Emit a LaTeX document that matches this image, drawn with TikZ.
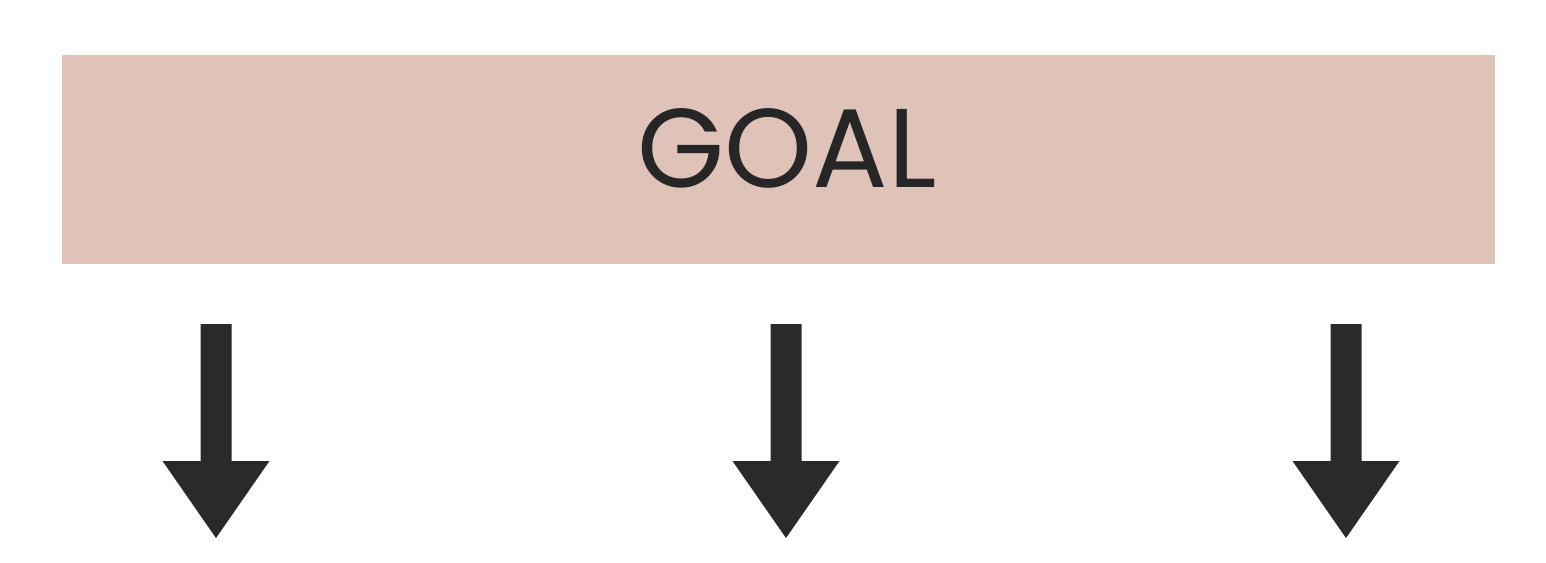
\documentclass[tikz,border=0pt]{standalone}
\usepackage{fontspec}
\setmainfont{Poppins}
\definecolor{goalfill}{HTML}{DFC3B9}
\definecolor{arrowdark}{HTML}{2A2A2A}
\definecolor{textdark}{HTML}{262626}
\tikzset{
  goalbox/.style={fill=goalfill, draw=none, minimum width=1433pt, minimum height=209pt, inner sep=0pt},
  downarrow/.style={fill=arrowdark, draw=none}
}
\begin{document}
\begin{tikzpicture}[x=1pt,y=-1pt]
\useasboundingbox (0,0) rectangle (1546,562);
\node[goalbox] (goal) at (778.5,159.5) {};
\node[text=textdark, font=\fontsize{112}{112}\selectfont, inner sep=0pt, anchor=base] (goaltext) at (787,187) {GOAL};
\foreach \cx/\nm in {216/a, 786/b, 1346/c} {
  \fill[downarrow] (\cx-15.5,324) -- (\cx+15.5,324) -- (\cx+15.5,461) -- (\cx+53.5,461)
     -- (\cx,538) -- (\cx-53.5,461) -- (\cx-15.5,461) -- cycle;
}
\end{tikzpicture}
\end{document}
